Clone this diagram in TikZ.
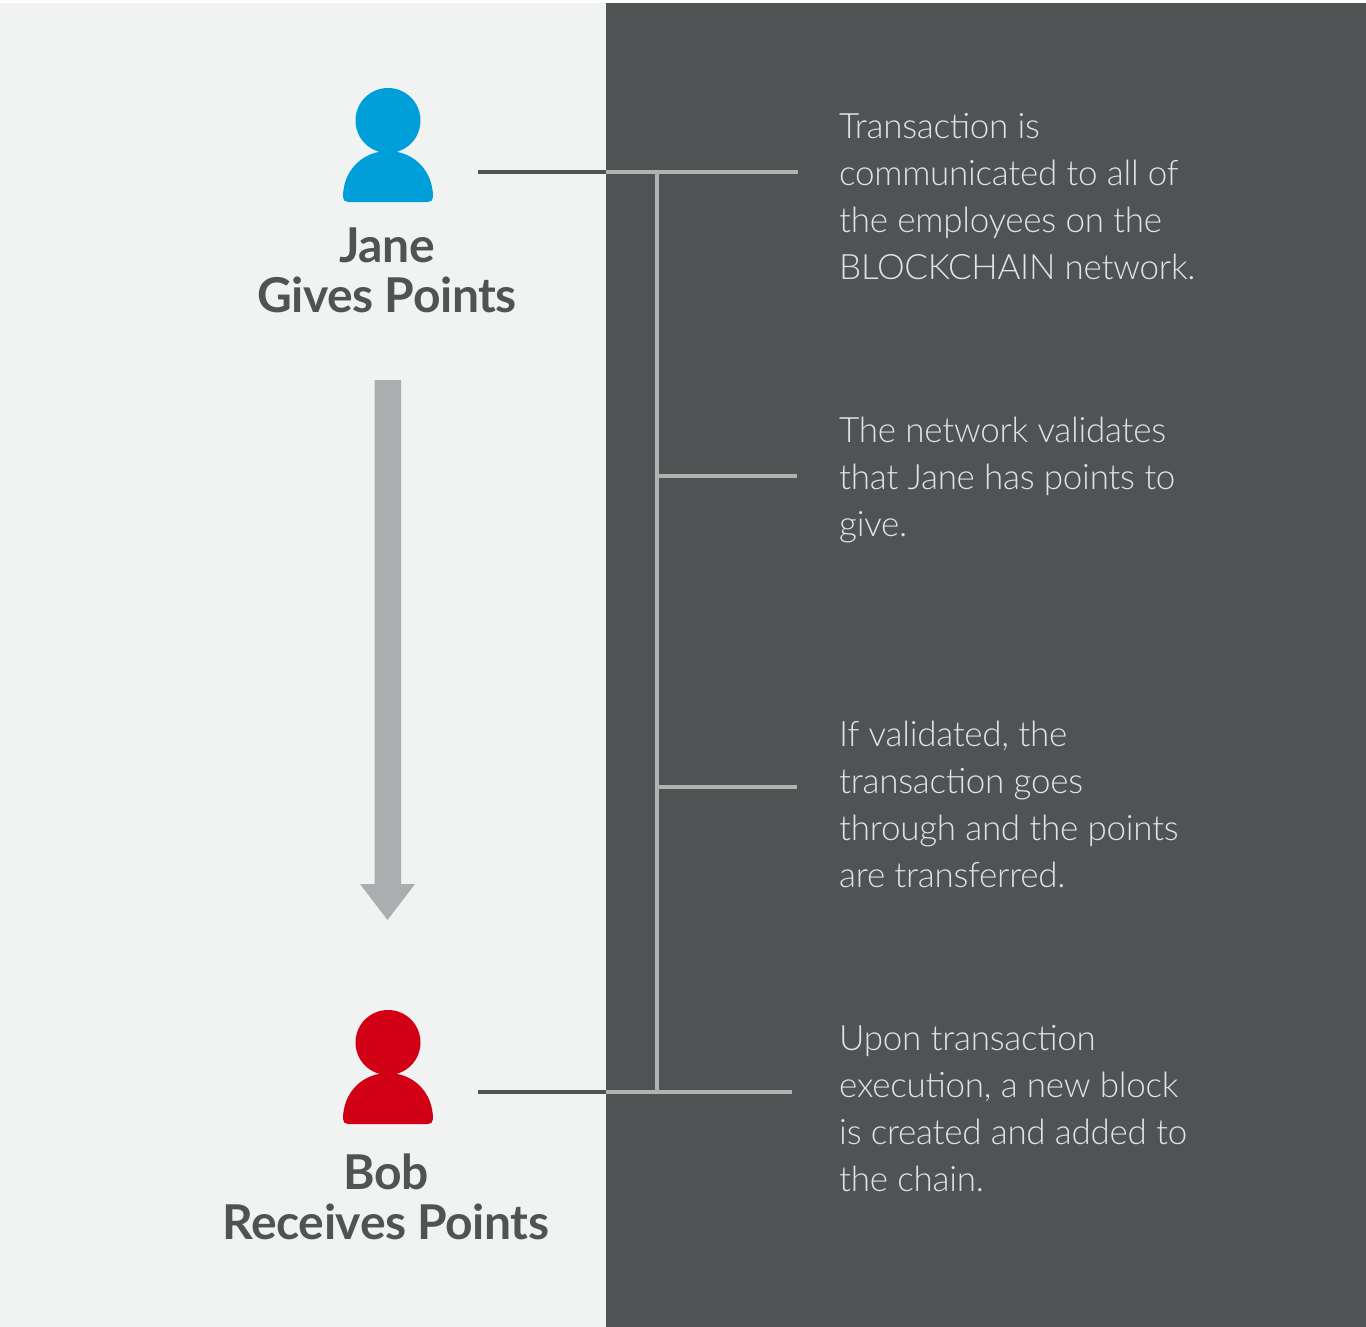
\documentclass[tikz,border=0pt]{standalone}
\usepackage{fontspec}
\setmainfont{Lato}[UprightFont={* Light},BoldFont={* Bold}]
\newfontfamily\descfont{Lato}[UprightFont={* Light},LetterSpace=-0.8]
\newfontfamily\whofont{Lato}[UprightFont={* Bold},LetterSpace=-0.9]
\definecolor{panelL}{HTML}{F1F3F2}
\definecolor{panelD}{HTML}{505354}
\definecolor{lineL}{HTML}{B1B3B3}
\definecolor{arrowG}{HTML}{ABADAF}
\definecolor{janeC}{HTML}{009FD9}
\definecolor{bobC}{HTML}{D10014}
\definecolor{txtL}{HTML}{E0E2E3}
\tikzset{
  x=1pt,y=-1pt,
  desc/.style={anchor=north west,inner sep=0pt,align=left,text=txtL,font=\fontsize{35}{47}\selectfont\descfont},
  who/.style={anchor=north,inner sep=0pt,align=center,text=panelD,font=\fontsize{48}{50}\selectfont\whofont},
  lightline/.style={draw=lineL,line width=4pt},
  darkline/.style={draw=panelD,line width=4pt},
  person/.pic={
    \fill (0,-81.5) circle[radius=32.5];
    \fill (-45,-5) .. controls (-45,-32) and (-25,-51) .. (0,-51)
      .. controls (25,-51) and (45,-32) .. (45,-5)
      .. controls (45,-2) and (43,0) .. (40,0) -- (-40,0)
      .. controls (-43,0) and (-45,-2) .. (-45,-5) -- cycle;
  }
}
\begin{document}
\begin{tikzpicture}
\useasboundingbox (0,0) rectangle (1366,1327);
\fill[white] (0,0) rectangle (1366,1327);
\fill[panelL] (0,3) rectangle (606,1327);
\fill[panelD] (606,3) rectangle (1366,1327);
% people
\pic[janeC] at (388,202) {person};
\pic[bobC] at (388,1124) {person};
\node[who] (jane) at (387,228) {Jane\\Gives Points};
\node[who] (bob) at (386,1154) {Bob\\Receives Points};
% arrow
\fill[arrowG] (374.5,380) -- (401,380) -- (401,884) -- (415,884) -- (387.5,920) -- (360,884) -- (374.5,884) -- cycle;
% connector points
\coordinate (a0) at (478,172);
\coordinate (a1) at (606,172);
\coordinate (a2) at (798,172);
\coordinate (b0) at (478,1092);
\coordinate (b1) at (606,1092);
\coordinate (b2) at (792,1092);
\coordinate (t) at (657,172);
\coordinate (u) at (657,1092);
\coordinate (m1) at (657,476);
\coordinate (m1e) at (797,476);
\coordinate (m2) at (657,787);
\coordinate (m2e) at (797,787);
\draw[darkline] (a0) -- (a1);
\draw[darkline] (b0) -- (b1);
\draw[lightline] (a1) -- (a2);
\draw[lightline] (b1) -- (b2);
\draw[lightline] (t) -- (u);
\draw[lightline] (m1) -- (m1e);
\draw[lightline] (m2) -- (m2e);
% texts
\node[desc] (t1) at (839,113) {Transaction is\\communicated to all of\\the employees on the\\BLOCKCHAIN network.};
\node[desc] (t2) at (839,417) {The network validates\\that Jane has points to\\give.};
\node[desc] (t3) at (839,721) {If validated, the\\transaction goes\\through and the points\\are transferred.};
\node[desc] (t4) at (839,1025) {Upon transaction\\execution, a new block\\is created and added to\\the chain.};
\end{tikzpicture}
\end{document}
